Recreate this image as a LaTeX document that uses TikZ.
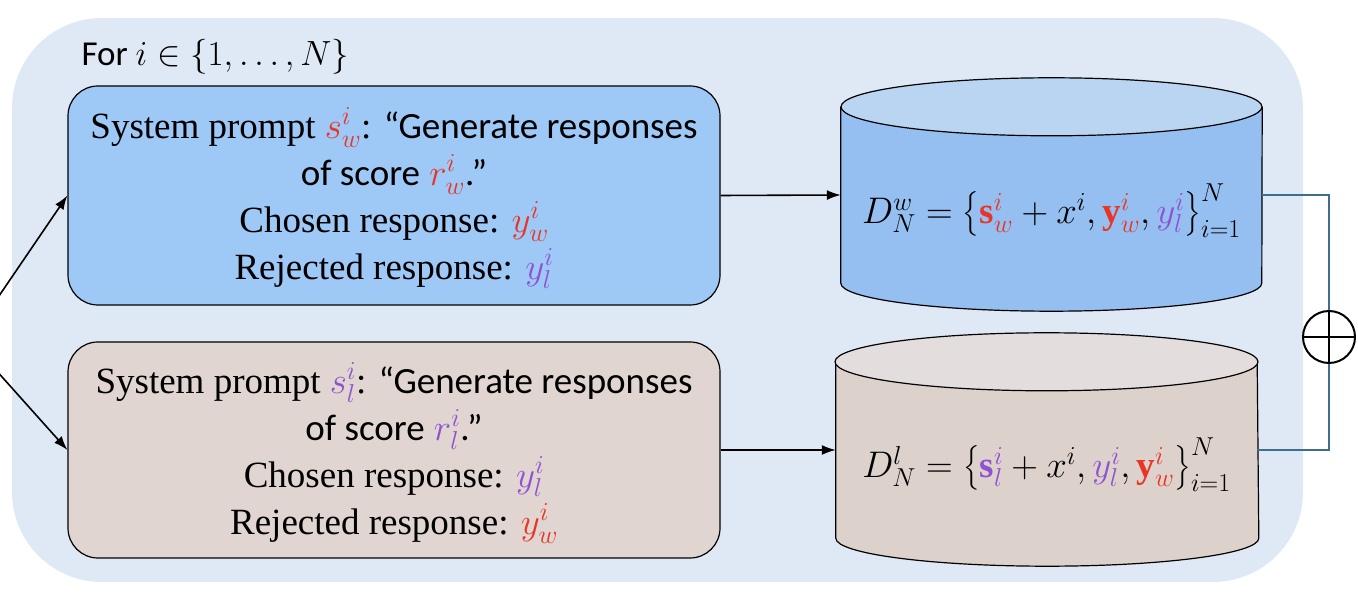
\RequirePackage{fix-cm}
\documentclass[tikz,border=0pt]{standalone}
\usepackage{amsmath}
\usepackage{fontspec}
\setmainfont{Liberation Serif}
\newfontfamily\handfont{Carlito}
\usetikzlibrary{arrows.meta}

\definecolor{bgblue}{RGB}{223,233,245}
\definecolor{wboxblue}{RGB}{158,200,245}
\definecolor{wcylbody}{RGB}{148,191,240}
\definecolor{wcyltop}{RGB}{186,213,242}
\definecolor{lboxbrown}{RGB}{224,213,208}
\definecolor{lcylbody}{RGB}{221,209,204}
\definecolor{lcyltop}{RGB}{227,221,221}
\definecolor{wred}{RGB}{233,52,38}
\definecolor{lpurple}{RGB}{143,82,210}
\definecolor{mergeblue}{RGB}{62,110,142}

\newcommand{\wcol}[1]{{\color{wred}#1}}
\newcommand{\lcol}[1]{{\color{lpurple}#1}}

\begin{document}
\begin{tikzpicture}[x=1pt, y=1pt,
    every node/.style={font={\fontsize{37}{47}\selectfont}},
    promptbox/.style={draw=black, line width=1.2pt, rounded corners=30pt, minimum width=652pt},
    cylspan/.style={minimum width=421pt, minimum height=176pt, inner sep=0pt},
    arrow/.style={-{Latex[length=14pt,width=10pt]}, line width=1.6pt},
    merge/.style={draw=mergeblue, line width=2pt}]

    \useasboundingbox (0,0) rectangle (1358,610);
    \fill[bgblue, rounded corners=90pt] (12,28) rectangle (1303,592);

    \node[anchor=west, font={\handfont\fontsize{35}{40}\selectfont}] (loop) at (78,553) {For $i\in\{1,\ldots,N\}$};

    % prompt boxes
    \node[promptbox, fill=wboxblue, minimum height=219pt] (wbox) at (394,414.5) {};
    \node[promptbox, fill=lboxbrown, minimum height=216pt] (lbox) at (394,160) {};

    \node[align=center] (wtext) at (394,412) {System prompt $\wcol{s_w^i}$: {\handfont “Generate responses}\\
        {\handfont of score} $\wcol{r_w^i}${\handfont.”}\\
        Chosen response: $\wcol{y_w^i}$\\
        Rejected response: $\lcol{y_l^i}$};
    \node[align=center] (ltext) at (394,157) {System prompt $\lcol{s_l^i}$: {\handfont “Generate responses}\\
        {\handfont of score} $\lcol{r_l^i}${\handfont.”}\\
        Chosen response: $\lcol{y_l^i}$\\
        Rejected response: $\wcol{y_w^i}$};

    % datasets
    \node[cylspan] (dw) at (1051.5,415) {};
    \node[cylspan] (dl) at (1046.5,160) {};
    \draw[fill=wcylbody, line width=1.2pt] (dw.north west) -- (dw.south west)
        arc[start angle=180, end angle=360, x radius=210.5, y radius=28] -- (dw.north east);
    \draw[fill=wcyltop, line width=1.2pt] (dw.north) ellipse[x radius=210.5, y radius=29];
    \draw[fill=lcylbody, line width=1.2pt] (dl.north west) -- (dl.south west)
        arc[start angle=180, end angle=360, x radius=211.5, y radius=28] -- (dl.north east);
    \draw[fill=lcyltop, line width=1.2pt] (dl.north) ellipse[x radius=211.5, y radius=29];

    \node (dwtext) at ([yshift=-16pt]dw.center) {$D_N^{w}=\bigl\{\wcol{\mathbf{s}_w^i}+x^i,\wcol{\mathbf{y}_w^i},\lcol{y_l^i}\bigr\}_{i=1}^N$};
    \node (dltext) at ([yshift=-15pt]dl.center) {$D_N^{l}=\bigl\{\lcol{\mathbf{s}_l^i}+x^i,\lcol{y_l^i},\wcol{\mathbf{y}_w^i}\bigr\}_{i=1}^N$};

    % arrows
    \coordinate (src) at (-31,270);
    \draw[arrow] (src) -- (wbox.west);
    \draw[arrow] (src) -- (lbox.west);
    \draw[arrow] (wbox.east) -- (dw.west);
    \draw[arrow] (lbox.east) -- (dl.west);

    % merge
    \node[draw, circle, line width=2pt, minimum size=52pt, inner sep=0pt] (oplus) at (1329,273) {};
    \draw[merge] (dw.east) -| (oplus.north);
    \draw[merge] (dl.east) -| (oplus.south);
    \draw[line width=2pt] (oplus.north) -- (oplus.south) (oplus.west) -- (oplus.east);
\end{tikzpicture}
\end{document}
